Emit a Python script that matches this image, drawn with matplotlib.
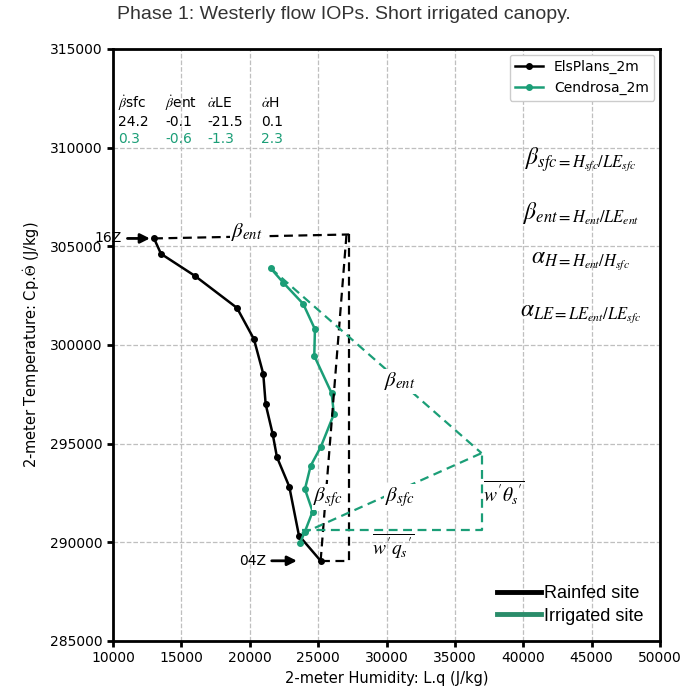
import matplotlib
matplotlib.use("Agg")
from matplotlib import pyplot as plt
from matplotlib.lines import Line2D

plt.rcParams['mathtext.fontset'] = 'stix'

# 2 m profiles (L.q, Cp.theta) in J/kg, from 04Z up to 16Z
elsplans_lq = [25183, 23596, 22888, 21988, 21675, 21163, 20987, 20307,
               19065, 15994, 13509, 13000]
elsplans_cpt = [289063, 290345, 292827, 294316, 295496, 297000, 298536,
                300294, 301880, 303500, 304620, 305400]

cendrosa_lq = [23670, 24035, 24598, 24035, 24453, 25205, 26155, 25987,
               24718, 24766, 23911, 22449, 21528]
cendrosa_cpt = [289958, 290547, 291560, 292694, 293874, 294852, 296500,
                297557, 299447, 300800, 302080, 303160, 303890]

# Bowen / entrainment triangle corners
els_corner = (27274, 305600)
cen_corner = (36950, 294519)
cen_base_y = 290633

ratio_names = [r'$\dot{\beta}$sfc', r'$\dot{\beta}$ent', r'$\dot{\alpha}$LE', r'$\dot{\alpha}$H']
ratios_els = ['24.2', '-0.1', '-21.5', '0.1']
ratios_cen = ['0.3', '-0.6', '-1.3', '2.3']

black = 'black'
green = '#1b9e77'

fig = plt.figure(figsize=(6.87, 6.98), dpi=100)
ax = fig.add_axes([0.1645, 0.0817, 0.7962, 0.8481])

ax.plot(elsplans_lq, elsplans_cpt, '-o', color=black, ms=4, lw=1.8, label='ElsPlans_2m')
ax.plot(cendrosa_lq, cendrosa_cpt, '-o', color=green, ms=4, lw=1.8, label='Cendrosa_2m')

dash = dict(ls='--', lw=1.6, dashes=(4, 2.5))
# ElsPlans triangle
x0, y0 = elsplans_lq[0], elsplans_cpt[0]
x1, y1 = elsplans_lq[-1], elsplans_cpt[-1]
ax.plot([x0, els_corner[0], els_corner[0]], [y0, y0, els_corner[1]], color=black, **dash)
ax.plot([x1, els_corner[0]], [y1, els_corner[1]], color=black, **dash)
ax.plot([x0, els_corner[0] - 200], [y0, els_corner[1]], color=black, **dash)

# Cendrosa triangle
cx1, cy1 = cendrosa_lq[-1], cendrosa_cpt[-1]
cx0 = 23800
ax.plot([cx0, cen_corner[0], cen_corner[0]], [cen_base_y, cen_base_y, cen_corner[1]], color=green, **dash)
ax.plot([cx0, cen_corner[0]], [cen_base_y - 200, cen_corner[1]], color=green, **dash)
ax.plot([cx1, cen_corner[0]], [cy1, cen_corner[1]], color=green, **dash)

lab = dict(fontsize=15, ha='center', va='center',
           bbox=dict(fc='white', ec='none', pad=1))
ax.text(19800, 305750, r'$\beta_{ent}$', **lab)
ax.text(31000, 298150, r'$\beta_{ent}$', **lab)
ax.text(25700, 292300, r'$\beta_{sfc}$', **lab)
ax.text(31000, 292300, r'$\beta_{sfc}$', **lab)
ax.text(38600, 292500, r"$\overline{w'\theta_s{}'}$", fontsize=14, ha='center', va='center')
ax.text(30500, 289800, r"$\overline{w'q_s{}'}$", fontsize=14, ha='center', va='center')

arrow = dict(arrowstyle='-|>', color=black, lw=2, mutation_scale=14, shrinkA=2, shrinkB=0)
ax.annotate('16Z', xy=(12700, y1), xytext=(10650, y1), fontsize=10, ha='right', va='center',
            family='Liberation Sans Narrow', annotation_clip=False, arrowprops=arrow)
ax.annotate('04Z', xy=(23450, y0), xytext=(21200, y0), fontsize=10, ha='right', va='center',
            family='Liberation Sans Narrow', arrowprops=arrow)

# ratio table
col_x = [10400, 13800, 16900, 20800]
for cx, name, ve, vc in zip(col_x, ratio_names, ratios_els, ratios_cen):
    ax.text(cx, 312250, name, fontsize=10, va='center')
    ax.text(cx, 311300, ve, fontsize=10, va='center', color=black)
    ax.text(cx, 310420, vc, fontsize=10, va='center', color=green)

formulas = [r'$\beta_{sfc=H_{sfc}/LE_{sfc}}$', r'$\beta_{ent=H_{ent}/LE_{ent}}$',
            r'$\alpha_{H=H_{ent}/H_{sfc}}$', r'$\alpha_{LE=LE_{ent}/LE_{sfc}}$']
for fy, f in zip([309400, 306650, 304250, 301550], formulas):
    ax.text(44200, fy, f, fontsize=17, ha='center', va='center')

ax.set_xlim(10000, 50000)
ax.set_ylim(285000, 315000)
ax.set_xticks(range(10000, 50001, 5000))
ax.set_yticks(range(285000, 315001, 5000))
ax.grid(True, ls='--', color='0.75', lw=0.9)
for s in ax.spines.values():
    s.set_linewidth(2)
ax.tick_params(width=2, length=4, labelsize=10)

leg1 = ax.legend(loc='upper right', fontsize=10, framealpha=1, borderaxespad=0.4)
ax.add_artist(leg1)
handles = [Line2D([], [], color=black, lw=3.5), Line2D([], [], color='#2a8c6a', lw=3.5)]
ax.legend(handles, ['Rainfed site', 'Irrigated site'], loc='lower right', frameon=False,
          prop=dict(family='Liberation Sans', size=13), handlelength=2.4,
          handletextpad=0.2, labelspacing=0.3, borderaxespad=0.5)

ax.set_xlabel('2-meter Humidity: L.q (J/kg)', fontsize=10.5, labelpad=4)
ax.set_ylabel(r'2-meter Temperature: Cp.$\dot{\Theta}$ (J/kg)', fontsize=10.5,
              labelpad=6)
fig.suptitle('Phase 1: Westerly flow IOPs. Short irrigated canopy.', fontsize=14,
             family='Liberation Sans', color='0.2', y=0.992)

fig.savefig('out.png', dpi=100)
